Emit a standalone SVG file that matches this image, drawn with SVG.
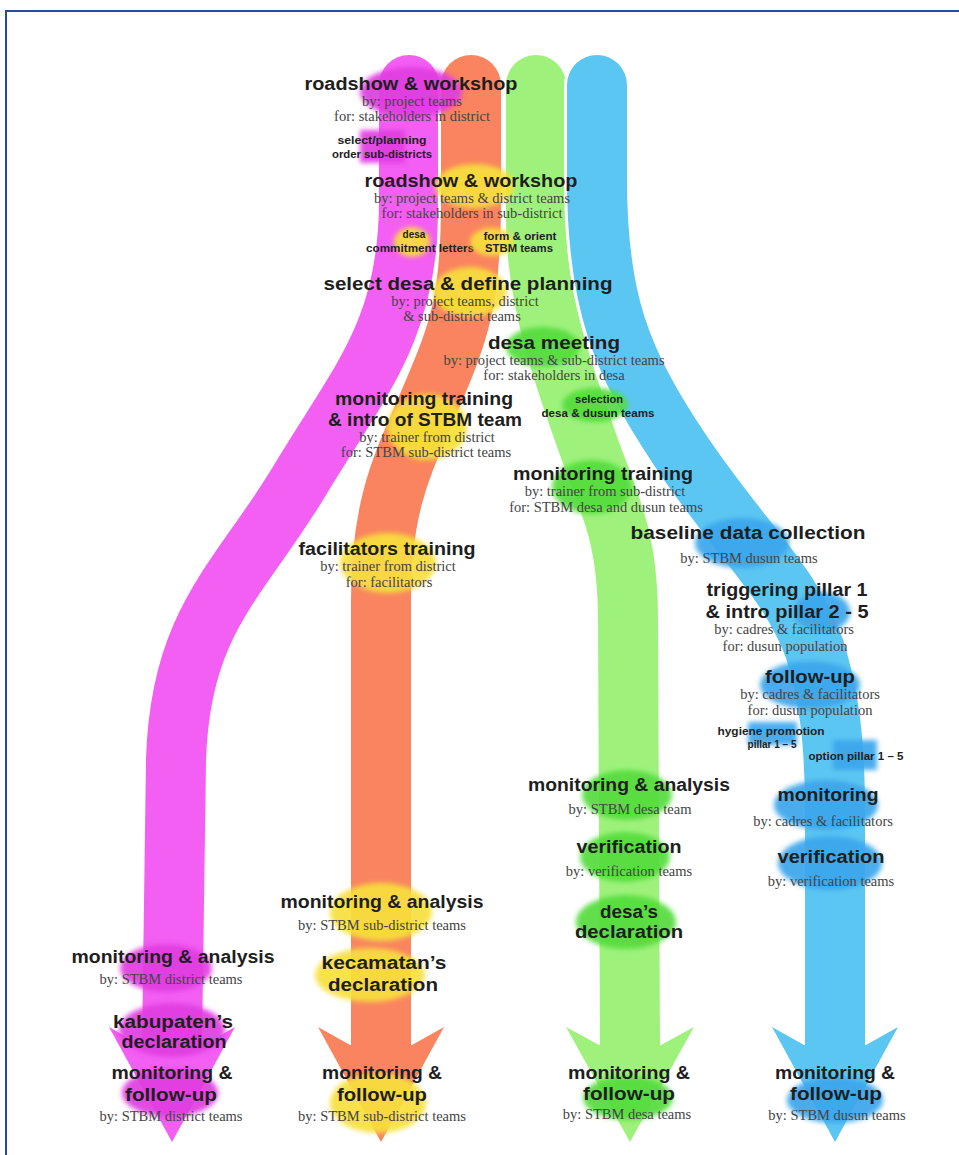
<svg xmlns="http://www.w3.org/2000/svg" width="959" height="1155" viewBox="0 0 959 1155">
<defs>
<style>
.h{font-family:"Liberation Sans",Arial,sans-serif;font-weight:bold;font-size:18px;fill:#1e1e1e;text-anchor:middle}
.s{font-family:"Liberation Serif","Times New Roman",serif;font-size:14.5px;fill:#444;text-anchor:middle}
.t{font-family:"Liberation Sans",Arial,sans-serif;font-weight:bold;font-size:10px;fill:#1e1e1e;text-anchor:middle}
.gap{fill:none;stroke:#fff;stroke-width:66;stroke-linecap:round}
.st{fill:none;stroke-width:60;stroke-linecap:round}
.mg{fill:#e03ce0}.yl{fill:#f7e03c}.gr{fill:#55dc3c}.bl{fill:#3aa6ec}
.blob{filter:url(#soft);opacity:0.92}
</style>
<filter id="soft" x="-20%" y="-20%" width="140%" height="140%"><feGaussianBlur stdDeviation="2.5"/></filter>
</defs>
<rect width="959" height="1155" fill="#fff"/>
<path d="M959,11 H6 V1155" fill="none" stroke="#2b4a9c" stroke-width="2"/>

<g id="connectors">
  <g id="stream-district">
    <path class="gap" d="M409,85 V200 C409,330 360,380 300,480 C240,580 180,620 176,760 L172,1045"/>
    <path class="st" stroke="#f35ef3" d="M409,85 V200 C409,330 360,380 300,480 C240,580 180,620 176,760 L172,1045"/>
    <polygon fill="#f35ef3" points="141,1045 109,1027 172,1142 235,1027 203,1045"/>
  </g>
  <g id="stream-subdistrict">
    <path class="gap" d="M471,85 V200 C471,300 460,330 430,400 C405,460 381,500 381,600 L381,1045"/>
    <path class="st" stroke="#f9845f" d="M471,85 V200 C471,300 460,330 430,400 C405,460 381,500 381,600 L381,1045"/>
    <polygon fill="#f9845f" points="350,1045 318,1027 381,1142 444,1027 412,1045"/>
  </g>
  <g id="stream-desa">
    <path class="gap" d="M536,85 V220 C536,300 565,380 590,450 C612,510 628,540 628,620 L630,1045"/>
    <path class="st" stroke="#9ef27c" d="M536,85 V220 C536,300 565,380 590,450 C612,510 628,540 628,620 L630,1045"/>
    <polygon fill="#9ef27c" points="599,1045 566,1027 630,1142 694,1027 661,1045"/>
  </g>
  <g id="stream-dusun">
    <path class="gap" d="M597,85 V180 C597,300 620,360 680,450 C740,540 790,580 815,650 C830,700 834,740 835,800 L835,1045"/>
    <path class="st" stroke="#5cc6f2" d="M597,85 V180 C597,300 620,360 680,450 C740,540 790,580 815,650 C830,700 834,740 835,800 L835,1045"/>
    <polygon fill="#5cc6f2" points="804,1045 772,1027 835,1142 898,1027 866,1045"/>
  </g>
</g>

<g id="n1">
  <ellipse class="mg blob" cx="411" cy="92" rx="51" ry="25"/>
  <text class="h" x="411" y="90" textLength="213" lengthAdjust="spacingAndGlyphs">roadshow &amp; workshop</text>
  <text class="s" x="412" y="106">by: project teams</text>
  <text class="s" x="412" y="121">for: stakeholders in district</text>
</g>
<g id="n2">
  <rect class="mg blob" x="360" y="130" width="45" height="33"/>
  <text class="t" x="382" y="144" textLength="89" lengthAdjust="spacingAndGlyphs">select/planning</text>
  <text class="t" x="382" y="158" textLength="100" lengthAdjust="spacingAndGlyphs">order sub-districts</text>
</g>
<g id="n3">
  <ellipse class="yl blob" cx="475" cy="186" rx="40" ry="22"/>
  <text class="h" x="471" y="187" textLength="213" lengthAdjust="spacingAndGlyphs">roadshow &amp; workshop</text>
  <text class="s" x="472" y="203">by: project teams &amp; district teams</text>
  <text class="s" x="472" y="218">for: stakeholders in sub-district</text>
</g>
<g id="n4">
  <ellipse class="yl blob" cx="412" cy="242" rx="18" ry="15"/>
  <text class="t" x="414" y="238">desa</text>
  <text class="t" x="420" y="252" textLength="108" lengthAdjust="spacingAndGlyphs">commitment letters</text>
</g>
<g id="n5">
  <ellipse class="yl blob" cx="492" cy="242" rx="22" ry="14"/>
  <text class="t" x="520" y="240" textLength="73" lengthAdjust="spacingAndGlyphs">form &amp; orient</text>
  <text class="t" x="519" y="252" textLength="68" lengthAdjust="spacingAndGlyphs">STBM teams</text>
</g>
<g id="n6">
  <ellipse class="yl blob" cx="470" cy="292" rx="37" ry="25"/>
  <text class="h" x="468" y="290" textLength="289" lengthAdjust="spacingAndGlyphs">select desa &amp; define planning</text>
  <text class="s" x="465" y="306">by: project teams, district</text>
  <text class="s" x="462" y="321">&amp; sub-district teams</text>
</g>
<g id="n7">
  <ellipse class="gr blob" cx="543" cy="347" rx="37" ry="20"/>
  <text class="h" x="554" y="349" textLength="132" lengthAdjust="spacingAndGlyphs">desa meeting</text>
  <text class="s" x="554" y="365">by: project teams &amp; sub-district teams</text>
  <text class="s" x="554" y="380">for: stakeholders in desa</text>
</g>
<g id="n8">
  <ellipse class="yl blob" cx="427" cy="427" rx="40" ry="33"/>
  <text class="h" x="424" y="405" textLength="178" lengthAdjust="spacingAndGlyphs">monitoring training</text>
  <text class="h" x="425" y="426" textLength="194" lengthAdjust="spacingAndGlyphs">&amp; intro of STBM team</text>
  <text class="s" x="427" y="442">by: trainer from district</text>
  <text class="s" x="426" y="457">for: STBM sub-district teams</text>
</g>
<g id="n9">
  <ellipse class="gr blob" cx="595" cy="405" rx="33" ry="17"/>
  <text class="t" x="599" y="403" textLength="48" lengthAdjust="spacingAndGlyphs">selection</text>
  <text class="t" x="598" y="417" textLength="113" lengthAdjust="spacingAndGlyphs">desa &amp; dusun teams</text>
</g>
<g id="n10">
  <ellipse class="gr blob" cx="592" cy="487" rx="40" ry="27"/>
  <text class="h" x="603" y="480" textLength="180" lengthAdjust="spacingAndGlyphs">monitoring training</text>
  <text class="s" x="605" y="496">by: trainer from sub-district</text>
  <text class="s" x="606" y="512">for: STBM desa and dusun teams</text>
</g>
<g id="n11">
  <ellipse class="yl blob" cx="388" cy="563" rx="48" ry="30"/>
  <text class="h" x="387" y="555" textLength="177" lengthAdjust="spacingAndGlyphs">facilitators training</text>
  <text class="s" x="388" y="571">by: trainer from district</text>
  <text class="s" x="389" y="587">for: facilitators</text>
</g>
<g id="n12">
  <ellipse class="bl blob" cx="742" cy="543" rx="47" ry="25"/>
  <text class="h" x="748" y="539" textLength="235" lengthAdjust="spacingAndGlyphs">baseline data collection</text>
  <text class="s" x="749" y="563">by: STBM dusun teams</text>
</g>
<g id="n13">
  <ellipse class="bl blob" cx="822" cy="612" rx="28" ry="20" opacity="0.6"/>
  <text class="h" x="787" y="596" textLength="161" lengthAdjust="spacingAndGlyphs">triggering pillar 1</text>
  <text class="h" x="787" y="618" textLength="163" lengthAdjust="spacingAndGlyphs">&amp; intro pillar 2 - 5</text>
  <text class="s" x="784" y="634">by: cadres &amp; facilitators</text>
  <text class="s" x="785" y="651">for: dusun population</text>
</g>
<g id="n14">
  <ellipse class="bl blob" cx="810" cy="685" rx="50" ry="24"/>
  <text class="h" x="810" y="683" textLength="90" lengthAdjust="spacingAndGlyphs">follow-up</text>
  <text class="s" x="810" y="699">by: cadres &amp; facilitators</text>
  <text class="s" x="810" y="715">for: dusun population</text>
</g>
<g id="n15">
  <rect class="bl blob" x="748" y="722" width="49" height="23"/>
  <text class="t" x="771" y="735" textLength="107" lengthAdjust="spacingAndGlyphs">hygiene promotion</text>
  <text class="t" x="772" y="748">pillar 1 – 5</text>
</g>
<g id="n16">
  <rect class="bl blob" x="833" y="740" width="44" height="30"/>
  <text class="t" x="856" y="760" textLength="95" lengthAdjust="spacingAndGlyphs">option pillar 1 – 5</text>
</g>
<g id="n17">
  <ellipse class="bl blob" cx="826" cy="805" rx="52" ry="25"/>
  <text class="h" x="828" y="801" textLength="101" lengthAdjust="spacingAndGlyphs">monitoring</text>
  <text class="s" x="823" y="826">by: cadres &amp; facilitators</text>
</g>
<g id="n18">
  <ellipse class="bl blob" cx="830" cy="863" rx="52" ry="27"/>
  <text class="h" x="831" y="863" textLength="107" lengthAdjust="spacingAndGlyphs">verification</text>
  <text class="s" x="831" y="886">by: verification teams</text>
</g>
<g id="n19">
  <ellipse class="bl blob" cx="835" cy="1100" rx="48" ry="23"/>
  <text class="h" x="835" y="1079" textLength="120" lengthAdjust="spacingAndGlyphs">monitoring &amp;</text>
  <text class="h" x="836" y="1100" textLength="92" lengthAdjust="spacingAndGlyphs">follow-up</text>
  <text class="s" x="837" y="1120">by: STBM dusun teams</text>
</g>
<g id="n20">
  <ellipse class="gr blob" cx="627" cy="795" rx="45" ry="25"/>
  <text class="h" x="629" y="791" textLength="202" lengthAdjust="spacingAndGlyphs">monitoring &amp; analysis</text>
  <text class="s" x="630" y="814">by: STBM desa team</text>
</g>
<g id="n21">
  <ellipse class="gr blob" cx="625" cy="857" rx="45" ry="25"/>
  <text class="h" x="629" y="853" textLength="105" lengthAdjust="spacingAndGlyphs">verification</text>
  <text class="s" x="629" y="876">by: verification teams</text>
</g>
<g id="n22">
  <ellipse class="gr blob" cx="626" cy="922" rx="50" ry="27"/>
  <text class="h" x="629" y="918" textLength="58" lengthAdjust="spacingAndGlyphs">desa’s</text>
  <text class="h" x="629" y="938" textLength="108" lengthAdjust="spacingAndGlyphs">declaration</text>
</g>
<g id="n23">
  <ellipse class="gr blob" cx="628" cy="1098" rx="45" ry="22"/>
  <text class="h" x="629" y="1079" textLength="122" lengthAdjust="spacingAndGlyphs">monitoring &amp;</text>
  <text class="h" x="629" y="1100" textLength="92" lengthAdjust="spacingAndGlyphs">follow-up</text>
  <text class="s" x="627" y="1119">by: STBM desa teams</text>
</g>
<g id="n24">
  <ellipse class="yl blob" cx="381" cy="912" rx="51" ry="29"/>
  <text class="h" x="382" y="908" textLength="203" lengthAdjust="spacingAndGlyphs">monitoring &amp; analysis</text>
  <text class="s" x="382" y="930">by: STBM sub-district teams</text>
</g>
<g id="n25">
  <ellipse class="yl blob" cx="370" cy="975" rx="55" ry="27"/>
  <text class="h" x="384" y="969" textLength="125" lengthAdjust="spacingAndGlyphs">kecamatan’s</text>
  <text class="h" x="383" y="991" textLength="110" lengthAdjust="spacingAndGlyphs">declaration</text>
</g>
<g id="n26">
  <ellipse class="yl blob" cx="378" cy="1103" rx="48" ry="30"/>
  <text class="h" x="382" y="1079" textLength="120" lengthAdjust="spacingAndGlyphs">monitoring &amp;</text>
  <text class="h" x="382" y="1101" textLength="90" lengthAdjust="spacingAndGlyphs">follow-up</text>
  <text class="s" x="382" y="1121">by: STBM sub-district teams</text>
</g>
<g id="n27">
  <ellipse class="mg blob" cx="166" cy="968" rx="46" ry="24"/>
  <text class="h" x="173" y="963" textLength="203" lengthAdjust="spacingAndGlyphs">monitoring &amp; analysis</text>
  <text class="s" x="171" y="984">by: STBM district teams</text>
</g>
<g id="n28">
  <ellipse class="mg blob" cx="172" cy="1030" rx="53" ry="27"/>
  <text class="h" x="173" y="1028" textLength="120" lengthAdjust="spacingAndGlyphs">kabupaten’s</text>
  <text class="h" x="174" y="1048" textLength="105" lengthAdjust="spacingAndGlyphs">declaration</text>
</g>
<g id="n29">
  <ellipse class="mg blob" cx="170" cy="1093" rx="48" ry="24"/>
  <text class="h" x="172" y="1079" textLength="121" lengthAdjust="spacingAndGlyphs">monitoring &amp;</text>
  <text class="h" x="171" y="1101" textLength="92" lengthAdjust="spacingAndGlyphs">follow-up</text>
  <text class="s" x="171" y="1121">by: STBM district teams</text>
</g>
</svg>
